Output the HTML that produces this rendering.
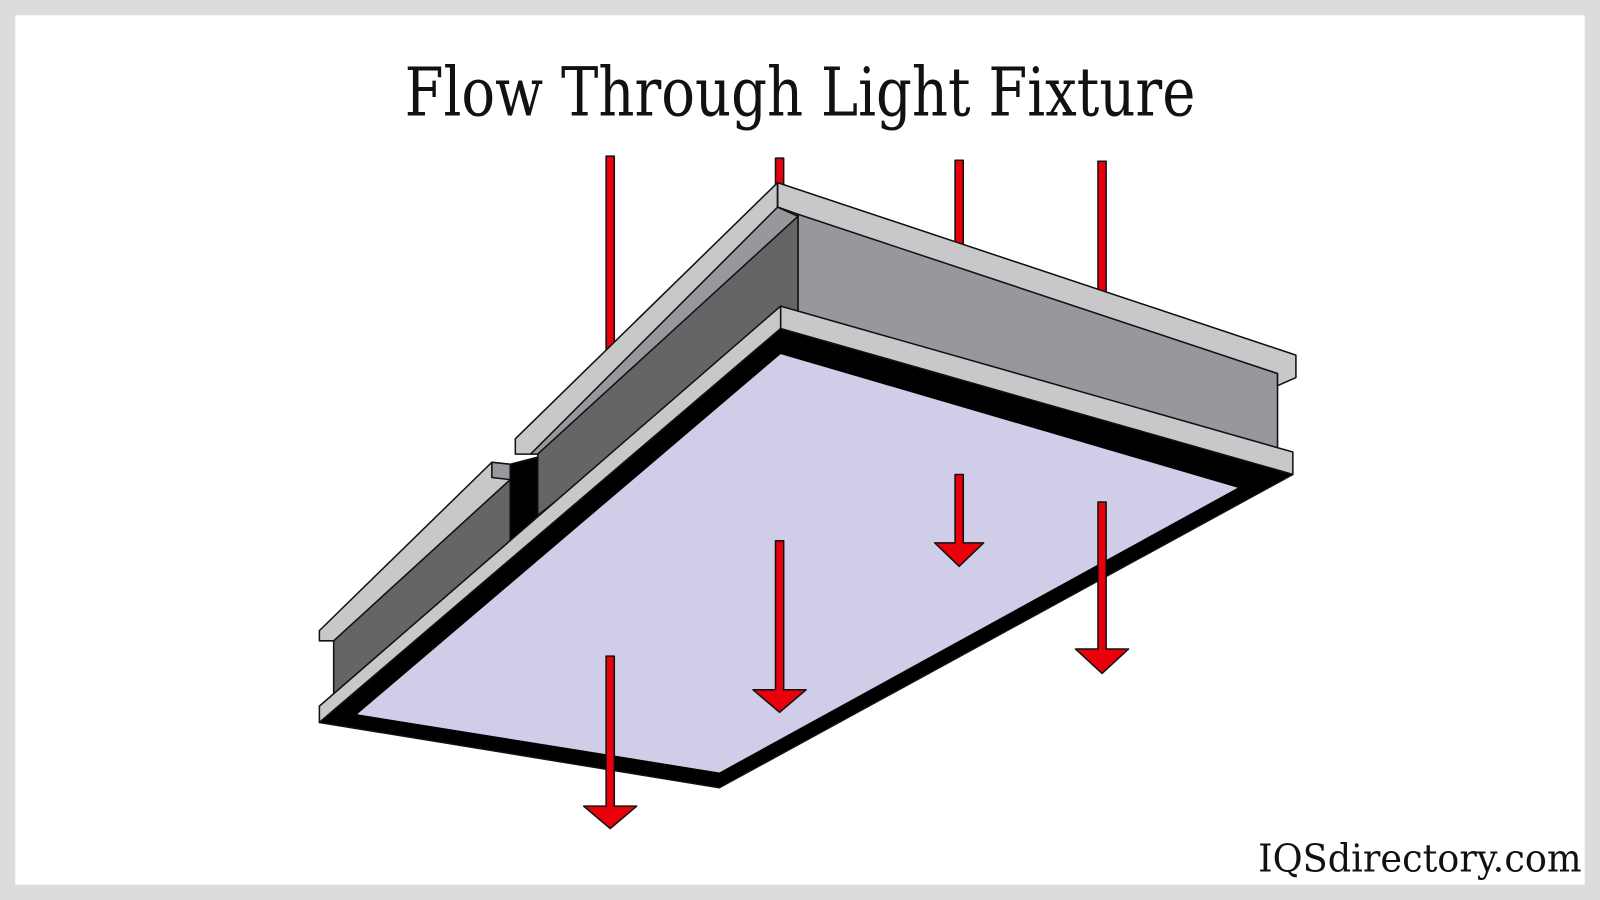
<!DOCTYPE html>
<html><head><style>
html,body{margin:0;padding:0;background:#dcdcdc;}
svg{display:block;}
</style></head><body>
<svg width="1600" height="900" viewBox="0 0 1568 882" preserveAspectRatio="none" xmlns="http://www.w3.org/2000/svg">
<rect width="1568" height="882" fill="#dcdcdc"/>
<rect x="15" y="15" width="1538" height="852" fill="#fff"/>
<text x="784" y="113" font-family="DejaVu Serif, serif" font-size="66" text-anchor="middle" textLength="775" lengthAdjust="spacingAndGlyphs" fill="#111">Flow Through Light Fixture</text>
<text x="1550" y="854" font-family="DejaVu Serif, serif" font-size="38" text-anchor="end" textLength="317" lengthAdjust="spacingAndGlyphs" fill="#111">IQSdirectory.com</text>

<g stroke="#111" stroke-width="1.5" stroke-linejoin="round">
<rect x="594" y="153" width="8" height="190" fill="#e8000b"/>
<rect x="760" y="155" width="8" height="28" fill="#e8000b"/>
<rect x="936" y="157" width="8" height="84" fill="#e8000b"/>
<rect x="1076" y="158" width="8" height="130" fill="#e8000b"/>

<!-- right web -->
<polygon points="782,208 1252,366 1252,442 782,305" fill="#97989b"/>
<!-- left web (long) -->
<polygon points="782,208 782,305 527,505 527,445" fill="#646567"/>
<!-- left short beam web -->
<polygon points="500,468 327,626 327,692 500,535" fill="#646567"/>
<polygon points="500,455 527,448 527,508 500,532" fill="#000"/>
<polygon points="482,453 313,618 313,628 327,628 500,470 500,455" fill="#c8c8ca"/>
<polygon points="482,453 500,455 500,470 482,468" fill="#97989b"/>
<!-- right upper flange -->
<polygon points="762,179 1270,348 1270,370 1252,378 1252,366 782,210 762,203" fill="#c8c8ca"/>
<!-- left upper flange -->
<polygon points="762,179 505,430 505,445 520,445 782,210 762,203" fill="#c8c8ca"/>
<polygon points="762,203 520,445 527,445 782,212" fill="#97989b"/>
<line x1="762" y1="179" x2="762" y2="203"/>

<polygon points="765,300 1267,443 1267,465 765,322" fill="#c8c8ca"/>
<polygon points="765,300 313,692 313,708 765,322" fill="#c8c8ca"/>
<polygon points="765,322 1267,465 705,772 313,708" fill="#000"/>
<polygon points="765,347 1213,478 705,757 350,700" fill="#cfcde8" stroke="none"/>

<polygon points="594,643 602,643 602,790 624,790 598,812 572,790 594,790" fill="#e8000b"/>
<polygon points="760,530 768,530 768,676 790,676 764,698 738,676 760,676" fill="#e8000b"/>
<polygon points="936,465 944,465 944,532 964,532 940,555 916,532 936,532" fill="#e8000b"/>
<polygon points="1076,492 1084,492 1084,636 1106,636 1080,660 1054,636 1076,636" fill="#e8000b"/>
</g>
</svg>
</body></html>
